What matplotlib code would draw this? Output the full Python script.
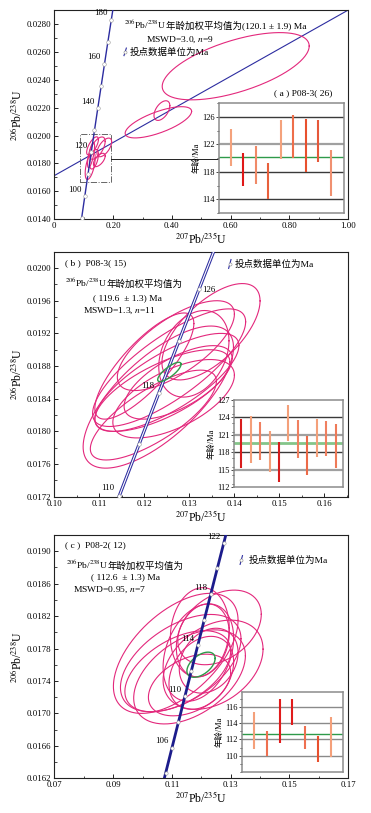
import numpy as np
import matplotlib
matplotlib.use('Agg')
import matplotlib.pyplot as plt
from matplotlib.ticker import MultipleLocator

plt.rcParams['font.family'] = ['Liberation Serif', 'DejaVu Serif', 'Noto Sans CJK SC']
plt.rcParams['mathtext.fontset'] = 'stix'
plt.rcParams['axes.unicode_minus'] = False

# decay constants (per Ma) for concordia curve
L238 = 1.55125e-4
L235 = 9.8485e-4

# ---------------- Panel (a) data ----------------
a_ex = [0.617, 0.354, 0.366, 0.122, 0.146, 0.170, 0.153, 0.130, 0.125, 0.135]
a_ey = [0.02497, 0.02095, 0.02179, 0.01785, 0.01910, 0.01915, 0.01825, 0.01926, 0.01860, 0.01830]
a_sx = [0.250, 0.113, 0.027, 0.017, 0.027, 0.025, 0.020, 0.020, 0.012, 0.015]
a_sy = [0.00241, 0.00112, 0.000705, 0.00100, 0.00080, 0.00067, 0.00048, 0.00065, 0.00090, 0.00070]
a_rho = [0.60, 0.70, 0.50, 0.55, 0.60, 0.60, 0.60, 0.70, 0.70, 0.50]
a_tick_ages = [90, 100, 110, 120, 130, 140, 150, 160, 170, 180]
a_label_ages = [100, 120, 140, 160, 180]
a_ref_x = [0.0, 1.0]
a_ref_y = [0.01713, 0.0290]
a_box = [0.0875, 0.193, 0.0167, 0.0201]
a_link_y = 0.0183
a_bar_lo = [118.8, 115.9, 116.2, 114.0, 119.8, 120.0, 118.0, 119.4, 114.5]
a_bar_hi = [124.2, 120.7, 121.7, 119.3, 125.5, 126.2, 125.7, 125.6, 121.2]
a_bar_col = ['#f4a27c', '#e01818', '#f08a68', '#e8603c', '#f4a27c', '#ee6e4a', '#e8502e', '#e6583a', '#f09070']
a_mean = 120.1
a_hlines = [126, 122, 118, 114]
a_hcols = ['#3a3a3a', '#a0a0a0', '#3a3a3a', '#3a3a3a']

# ---------------- Panel (b) data ----------------
b_ex = [0.1348, 0.1255, 0.1231, 0.1250, 0.1310, 0.1240, 0.1220, 0.1275, 0.1270, 0.1265, 0.1200]
b_ey = [0.01922, 0.01878, 0.01842, 0.01860, 0.01895, 0.01850, 0.01820, 0.01860, 0.01905, 0.01840, 0.01880]
b_sx = [0.0109, 0.0170, 0.0167, 0.0160, 0.0078, 0.0150, 0.0140, 0.0120, 0.0130, 0.0135, 0.0110]
b_sy = [0.00059, 0.00072, 0.00087, 0.00060, 0.00053, 0.00050, 0.00055, 0.00045, 0.00055, 0.00048, 0.00065]
b_rho = [0.64, 0.78, 0.70, 0.75, 0.30, 0.70, 0.75, 0.65, 0.70, 0.60, 0.80]
b_mean_ell = [0.12556, 0.018728, 0.0026, 0.000118, 0.8]
b_tick_ages = [110, 114, 118, 122, 126]
b_label_ages = [110, 118, 126]
b_bar_lo = [115.3, 116.2, 116.6, 114.5, 112.9, 120.0, 117.0, 114.1, 117.2, 117.4, 115.2]
b_bar_hi = [123.7, 124.3, 123.2, 121.7, 119.7, 126.1, 123.5, 120.8, 123.7, 123.3, 122.9]
b_bar_col = ['#d81c1c', '#f4a07a', '#f08060', '#f4a07a', '#d81c1c', '#f4a07a', '#f08060', '#ec6a48', '#f4a07a', '#f08060', '#ee7a58']
b_mean = 119.6
b_hlines = [124, 121, 118, 115]
b_hcols = ['#3a3a3a', '#a0a0a0', '#3a3a3a', '#a0a0a0']

# ---------------- Panel (c) data ----------------
c_ex = [0.1113, 0.1262, 0.1130, 0.1160, 0.1240, 0.1160, 0.1190, 0.1205, 0.1120, 0.1200, 0.1225, 0.1195]
c_ey = [0.01774, 0.01806, 0.01762, 0.01745, 0.01760, 0.01735, 0.01775, 0.01790, 0.01752, 0.01750, 0.01765, 0.01800]
c_sx = [0.0212, 0.0142, 0.0205, 0.0190, 0.0170, 0.0140, 0.0120, 0.0090, 0.0180, 0.0110, 0.0100, 0.0100]
c_sy = [0.00074, 0.00046, 0.00060, 0.00058, 0.00055, 0.00038, 0.00060, 0.00045, 0.00050, 0.00045, 0.00040, 0.00055]
c_rho = [0.55, 0.35, 0.50, 0.45, 0.35, 0.40, 0.30, 0.20, 0.50, 0.30, 0.25, 0.10]
c_mean_ell = [0.1199, 0.01760, 0.0048, 0.000155, 0.5]
c_tick_ages = [104, 106, 108, 110, 112, 114, 116, 118, 120, 122]
c_label_ages = [106, 110, 114, 118, 122]
c_bar_lo = [110.8, 110.0, 111.6, 113.8, 110.8, 109.2, 109.8]
c_bar_hi = [115.3, 113.0, 116.9, 117.0, 113.6, 112.4, 114.7]
c_bar_col = ['#f4a07a', '#ee7050', '#e01c1c', '#e01c1c', '#ee7050', '#e8502e', '#f4a07a']
c_mean = 112.6
c_hlines = [116, 114, 112, 110]
c_hcols = ['#8a8a8a', '#8a8a8a', '#8a8a8a', '#8a8a8a']

PINK = '#e3287c'
BLUE = '#2c2ca0'
GREEN = '#2f9a4a'
RATIO = '$^{206}$Pb/$^{238}$U'

fig = plt.figure(figsize=(3.71, 8.13), dpi=100)


def conc(age):
    age = np.asarray(age, dtype=float)
    return np.exp(L235 * age) - 1, np.exp(L238 * age) - 1


def ellipse(ax, cx, cy, sx, sy, rho, color, lw=0.8, zorder=3):
    t = np.linspace(0, 2 * np.pi, 240)
    x = cx + sx * np.cos(t)
    y = cy + sy * (rho * np.cos(t) + np.sqrt(1 - rho ** 2) * np.sin(t))
    ax.plot(x, y, color=color, lw=lw, zorder=zorder)


def style_axes(ax):
    ax.tick_params(axis='both', which='both', direction='in', labelsize=6.3, pad=2)
    ax.tick_params(which='major', length=3, width=0.6)
    ax.tick_params(which='minor', length=1.8, width=0.5)
    for s in ax.spines.values():
        s.set_linewidth(0.8)
        s.set_color('#222222')
    ax.set_ylabel(RATIO, fontsize=8.5, labelpad=2)
    ax.set_xlabel('$^{207}$Pb/$^{235}$U', fontsize=8.5, labelpad=1)


def draw_inset(rect, lo, hi, cols, mean, hl, hc, ylim, yt, ymin, xlim, meanlw=1.0, meancol=GREEN):
    ia = fig.add_axes(rect)
    xs = np.arange(1, len(lo) + 1)
    for yv, c in zip(hl, hc):
        ia.axhline(yv, color=c, lw=1.0 if c != '#a0a0a0' else 1.6, zorder=1)
    ia.axhline(mean, color=meancol, lw=meanlw, zorder=2)
    ia.vlines(xs, lo, hi, colors=cols, lw=1.5, zorder=3)
    ia.set_xlim(*xlim)
    ia.set_ylim(*ylim)
    ia.set_yticks(yt)
    ia.yaxis.set_minor_locator(MultipleLocator(ymin))
    ia.set_xticks([])
    ia.tick_params(axis='y', which='both', direction='out', labelsize=6, pad=1)
    ia.tick_params(which='major', length=2, width=0.5)
    ia.tick_params(which='minor', length=1.5, width=0.5)
    for s in ia.spines.values():
        s.set_linewidth(1.1)
        s.set_color('#8c8c8c')
    ia.set_ylabel('年龄/Ma', fontsize=6, labelpad=1)
    ia.set_facecolor('white')
    return ia


def icon(ax, x, y, color=BLUE):
    ax.plot([x - 0.004, x + 0.004], [y - 0.018, y + 0.018], color=color, lw=0.8,
            transform=ax.transAxes, zorder=6)
    ax.plot([x], [y], marker='o', ms=2.2, mfc='white', mec='#888888', mew=0.4,
            transform=ax.transAxes, zorder=7)


def ratio_text(ax, x, y, tail, size):
    t1 = ax.text(x, y, RATIO, transform=ax.transAxes, fontsize=size,
                 ha='left', va='center')
    ax.annotate(tail, xy=(1, 0.5), xycoords=t1, xytext=(-0.6, -0.8),
                textcoords='offset points', fontsize=size, ha='left', va='center')


TXT = 6.8

# ================= Panel (a) =================
axA = fig.add_axes([0.1464, 0.7303, 0.7924, 0.2574])
axA.set_xlim(0, 1.0)
axA.set_ylim(0.0140, 0.0290)
ages = np.linspace(80, 200, 400)
cx_, cy_ = conc(ages)
axA.plot(cx_, cy_, color=BLUE, lw=1.0, zorder=4)
axA.plot(a_ref_x, a_ref_y, color=BLUE, lw=0.8, zorder=2)
tx, ty = conc(a_tick_ages)
axA.plot(tx, ty, 'o', ms=2.6, mfc='white', mec='#999999', mew=0.4, zorder=5)
for ag in a_label_ages:
    px, py = conc(ag)
    axA.annotate(str(ag), (px, py), xytext=(-2.5, 2), textcoords='offset points',
                 ha='right', va='bottom', fontsize=6.3, zorder=6)
for i in range(len(a_ex)):
    ellipse(axA, a_ex[i], a_ey[i], a_sx[i], a_sy[i], a_rho[i], PINK)
bx0, bx1, by0, by1 = a_box
axA.plot([bx0, bx1, bx1, bx0, bx0], [by0, by0, by1, by1, by0], color='#666666',
         lw=0.7, ls='-.', zorder=2)
axA.plot([bx1, 0.561], [a_link_y, a_link_y], color='#222222', lw=0.7, zorder=2)
axA.set_xticks([0, 0.2, 0.4, 0.6, 0.8, 1.0])
axA.set_xticklabels(['0', '0.20', '0.40', '0.60', '0.80', '1.00'])
axA.xaxis.set_minor_locator(MultipleLocator(0.1))
axA.set_yticks(np.arange(0.0140, 0.02801, 0.0020))
axA.set_yticklabels(['%.4f' % v for v in np.arange(0.0140, 0.02801, 0.0020)])
axA.yaxis.set_minor_locator(MultipleLocator(0.0010))
style_axes(axA)
ratio_text(axA, 0.237, 0.928, '年龄加权平均值为(120.1 ± 1.9) Ma', TXT)
axA.text(0.428, 0.857, 'MSWD=3.0, $n$=9', transform=axA.transAxes, fontsize=TXT,
         ha='center', va='center')
icon(axA, 0.241, 0.800)
axA.text(0.257, 0.800, '投点数据单位为Ma', transform=axA.transAxes, fontsize=TXT,
         ha='left', va='center')
axA.text(0.848, 0.603, '( a ) P08-3( 26)', transform=axA.transAxes, fontsize=TXT,
         ha='center', va='center')
draw_inset([0.5903, 0.738, 0.3369, 0.1353], a_bar_lo, a_bar_hi, a_bar_col, a_mean,
           a_hlines, a_hcols, (112, 128), [114, 118, 122, 126], 2, (0.06, 10.06))

# ================= Panel (b) =================
axB = fig.add_axes([0.1464, 0.3890, 0.7924, 0.3014])
axB.set_xlim(0.10, 0.1653)
axB.set_ylim(0.0172, 0.0202)
ages = np.linspace(100, 135, 300)
cx_, cy_ = conc(ages)
axB.plot(cx_, cy_, color=BLUE, lw=2.3, zorder=4)
axB.plot(cx_, cy_, color='white', lw=0.8, zorder=4)
tx, ty = conc(b_tick_ages)
axB.plot(tx, ty, 'o', ms=2.6, mfc='white', mec='#999999', mew=0.4, zorder=5)
offs = {110: (-3.5, 2.5, 'right'), 118: (-3, 2, 'right'), 126: (2, -3, 'left')}
for ag in b_label_ages:
    px, py = conc(ag)
    dx, dy, ha = offs[ag]
    axB.annotate(str(ag), (px, py), xytext=(dx, dy), textcoords='offset points',
                 ha=ha, va='bottom', fontsize=6.3, zorder=6)
for i in range(len(b_ex)):
    ellipse(axB, b_ex[i], b_ey[i], b_sx[i], b_sy[i], b_rho[i], PINK)
ellipse(axB, *b_mean_ell, color=GREEN, lw=1.0, zorder=5)
axB.set_xticks(np.arange(0.10, 0.1601, 0.01))
axB.set_xticklabels(['%.2f' % v for v in np.arange(0.10, 0.1601, 0.01)])
axB.xaxis.set_minor_locator(MultipleLocator(0.005))
axB.set_yticks(np.arange(0.0172, 0.02001, 0.0004))
axB.set_yticklabels(['%.4f' % v for v in np.arange(0.0172, 0.02001, 0.0004)])
axB.yaxis.set_minor_locator(MultipleLocator(0.0002))
style_axes(axB)
axB.text(0.036, 0.953, '( b )  P08-3( 15)', transform=axB.transAxes, fontsize=TXT,
         ha='left', va='center')
ratio_text(axB, 0.036, 0.871, '年龄加权平均值为', TXT)
axB.text(0.248, 0.812, '( 119.6  ± 1.3) Ma', transform=axB.transAxes, fontsize=TXT,
         ha='center', va='center')
axB.text(0.220, 0.759, 'MSWD=1.3, $n$=11', transform=axB.transAxes, fontsize=TXT,
         ha='center', va='center')
icon(axB, 0.597, 0.950)
axB.text(0.615, 0.950, '投点数据单位为Ma', transform=axB.transAxes, fontsize=TXT,
         ha='left', va='center')
draw_inset([0.6307, 0.401, 0.2938, 0.107], b_bar_lo, b_bar_hi, b_bar_col, b_mean,
           b_hlines, b_hcols, (112, 127), [112, 115, 118, 121, 124, 127], 1.5,
           (0.26, 11.74), meanlw=2.0, meancol='#84c58a')

# ================= Panel (c) =================
axC = fig.add_axes([0.1464, 0.0427, 0.7924, 0.2993])
axC.set_xlim(0.07, 0.17)
axC.set_ylim(0.0162, 0.0192)
ages = np.linspace(95, 130, 300)
cx_, cy_ = conc(ages)
axC.plot(cx_, cy_, color='#1c1c8c', lw=2.0, zorder=4)
tx, ty = conc(c_tick_ages)
axC.plot(tx, ty, 'o', ms=2.4, mfc='white', mec='#999999', mew=0.4, zorder=5)
for ag in c_label_ages:
    px, py = conc(ag)
    axC.annotate(str(ag), (px, py), xytext=(-2.5, 1.5), textcoords='offset points',
                 ha='right', va='bottom', fontsize=6.3, zorder=6)
for i in range(len(c_ex)):
    ellipse(axC, c_ex[i], c_ey[i], c_sx[i], c_sy[i], c_rho[i], PINK)
ellipse(axC, *c_mean_ell, color=GREEN, lw=1.0, zorder=3.5)
axC.set_xticks(np.arange(0.07, 0.1701, 0.02))
axC.set_xticklabels(['%.2f' % v for v in np.arange(0.07, 0.1701, 0.02)])
axC.xaxis.set_minor_locator(MultipleLocator(0.01))
axC.set_yticks(np.arange(0.0162, 0.01901, 0.0004))
axC.set_yticklabels(['%.4f' % v for v in np.arange(0.0162, 0.01901, 0.0004)])
axC.yaxis.set_minor_locator(MultipleLocator(0.0002))
style_axes(axC)
axC.text(0.036, 0.959, '( c )  P08-2( 12)', transform=axC.transAxes, fontsize=TXT,
         ha='left', va='center')
ratio_text(axC, 0.040, 0.877, '年龄加权平均值为', TXT)
axC.text(0.243, 0.825, '( 112.6  ± 1.3) Ma', transform=axC.transAxes, fontsize=TXT,
         ha='center', va='center')
axC.text(0.189, 0.774, 'MSWD=0.95, $n$=7', transform=axC.transAxes, fontsize=TXT,
         ha='center', va='center')
icon(axC, 0.636, 0.897)
axC.text(0.660, 0.897, '投点数据单位为Ma', transform=axC.transAxes, fontsize=TXT,
         ha='left', va='center')
draw_inset([0.6523, 0.0504, 0.2722, 0.0984], c_bar_lo, c_bar_hi, c_bar_col, c_mean,
           c_hlines, c_hcols, (108, 117.8), [110, 112, 114, 116], 1, (0.05, 7.95))

fig.savefig('out.png', dpi=100, facecolor='white')
